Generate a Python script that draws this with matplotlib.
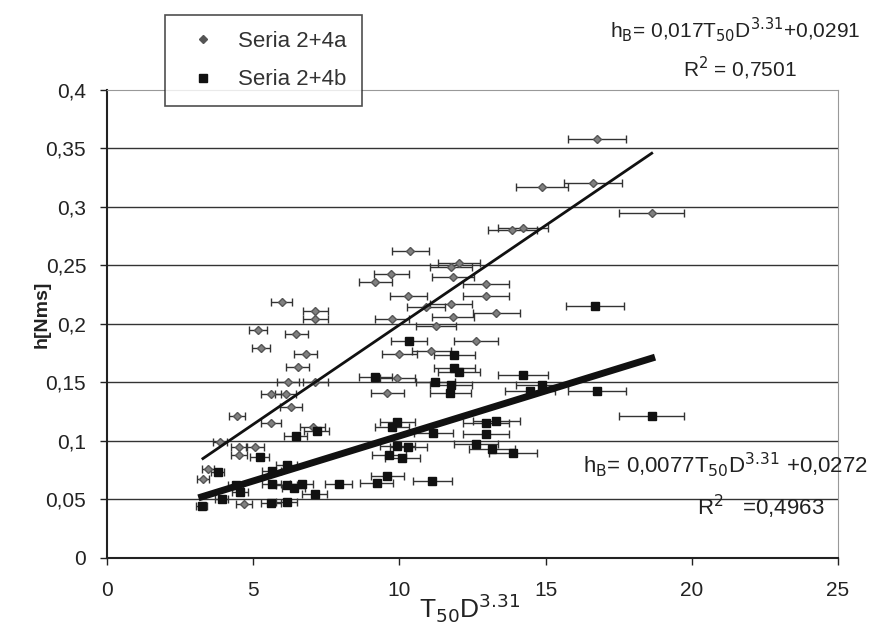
import numpy as np
import matplotlib
matplotlib.use("Agg")
from matplotlib import pyplot
from matplotlib.lines import Line2D

# Seria 2+4a (grey diamonds)
a_x = [16.76, 14.88, 16.62, 18.63, 13.86, 14.23, 10.38, 12.05, 11.77, 9.73,
       9.18, 11.84, 12.97, 12.97, 10.31, 11.77, 10.92, 13.31, 11.84, 9.76,
       11.26, 12.63, 10.00, 11.09, 9.93, 9.59, 5.97, 7.13, 7.13, 5.15,
       6.48, 5.26, 6.79, 6.52, 6.18, 7.13, 5.60, 6.11, 6.28, 4.44,
       5.60, 7.03, 3.86, 4.51, 5.05, 4.51, 3.45, 3.28, 4.68]
a_y = [0.358, 0.317, 0.320, 0.295, 0.280, 0.282, 0.262, 0.252, 0.249, 0.243,
       0.236, 0.240, 0.234, 0.224, 0.224, 0.217, 0.214, 0.209, 0.206, 0.204,
       0.198, 0.185, 0.174, 0.177, 0.154, 0.141, 0.219, 0.211, 0.204, 0.195,
       0.191, 0.179, 0.174, 0.163, 0.150, 0.150, 0.140, 0.140, 0.129, 0.121,
       0.115, 0.112, 0.099, 0.095, 0.095, 0.088, 0.076, 0.067, 0.046]

# Seria 2+4b (black squares)
b_x = [16.69, 18.63, 16.76, 14.23, 14.88, 14.47, 10.34, 11.88, 11.88, 12.05,
       9.18, 11.23, 11.77, 11.74, 13.31, 12.97, 12.97, 9.93, 9.76, 11.16,
       9.93, 10.31, 12.63, 13.17, 13.89, 9.66, 10.10, 9.59, 9.22, 11.13,
       7.92, 6.45, 7.17, 5.22, 3.79, 4.40, 4.54, 5.63, 6.14, 5.63,
       6.14, 6.66, 6.38, 7.10, 3.24, 3.92, 5.60, 6.14]
b_y = [0.215, 0.121, 0.143, 0.156, 0.148, 0.143, 0.185, 0.173, 0.162, 0.159,
       0.155, 0.150, 0.148, 0.141, 0.117, 0.115, 0.106, 0.116, 0.112, 0.107,
       0.096, 0.095, 0.097, 0.093, 0.090, 0.088, 0.085, 0.070, 0.064, 0.066,
       0.063, 0.104, 0.108, 0.086, 0.073, 0.062, 0.056, 0.074, 0.079, 0.063,
       0.062, 0.063, 0.060, 0.055, 0.044, 0.050, 0.047, 0.048]

# relative horizontal uncertainty
rel_err = 0.06

# trend lines as printed on the chart
a_fit = (0.017, 0.0291)
b_fit = (0.0077, 0.0272)

x_ticks = [0, 5, 10, 15, 20, 25]
y_ticks = [0, 0.05, 0.1, 0.15, 0.2, 0.25, 0.3, 0.35, 0.4]
y_labels = ["0", "0,05", "0,1", "0,15", "0,2", "0,25", "0,3", "0,35", "0,4"]

pyplot.rcParams["font.family"] = ["Liberation Sans", "DejaVu Sans"]
TEXT = "#222222"

figure = pyplot.figure(figsize=(8.77, 6.24), dpi=100)
axis = figure.add_axes([0.122, 0.106, 0.8335, 0.750])

for y in y_ticks[1:-1]:
    axis.axhline(y, color="#333333", lw=1.0, zorder=1)

a_x = np.array(a_x)
b_x = np.array(b_x)
axis.errorbar(a_x, a_y, xerr=rel_err * a_x, fmt="D", ms=4.5, color="#808080",
              mec="#555555", ecolor="#333333", elinewidth=1.0, capsize=3,
              capthick=1.0, zorder=3)
axis.errorbar(b_x, b_y, xerr=rel_err * b_x, fmt="s", ms=5.5, color="#111111",
              ecolor="#333333", elinewidth=1.0, capsize=3, capthick=1.0, zorder=3)

xa = np.array([a_x.min(), a_x.max()])
axis.plot(xa, a_fit[0] * xa + a_fit[1], color="#111111", lw=2.0, zorder=4)
xb = np.array([b_x.min(), b_x.max()])
axis.plot(xb, b_fit[0] * xb + b_fit[1], color="#111111", lw=5.0, zorder=4)

axis.set_xlim(0, 25)
axis.set_ylim(0, 0.4)
axis.set_xticks(x_ticks)
axis.set_xticklabels([str(t) for t in x_ticks], fontsize=15, color=TEXT)
axis.set_yticks(y_ticks)
axis.set_yticklabels(y_labels, fontsize=15, color=TEXT)
axis.tick_params(axis="both", direction="out", length=5, width=1.0, color="#222222")
axis.tick_params(axis="x", pad=12)
axis.tick_params(axis="y", pad=10)

for side in ("top", "right"):
    axis.spines[side].set_color("#999999")
    axis.spines[side].set_linewidth(0.8)
for side in ("left", "bottom"):
    axis.spines[side].set_color("#222222")
    axis.spines[side].set_linewidth(1.5)

axis.set_ylabel("h[Nms]", fontsize=14, fontweight="bold", color=TEXT)
axis.yaxis.set_label_coords(-0.077, 0.52)
figure.text(470 / 877, 1 - 607 / 624, "T$_{50}$D$^{3.31}$", fontsize=19,
            ha="center", va="center", color=TEXT)

handles = [
    Line2D([], [], ls="none", marker="D", ms=4, color="#555555"),
    Line2D([], [], ls="none", marker="s", ms=6, color="#111111"),
]
legend = figure.legend(handles, ["Seria 2+4a", "Seria 2+4b"], loc="upper left",
                       bbox_to_anchor=(0.188, 0.976), fontsize=16, frameon=True,
                       fancybox=False, edgecolor="#222222", borderpad=0.7,
                       labelspacing=0.8, handletextpad=0.6, borderaxespad=0)
legend.get_frame().set_linewidth(1.2)
for t in legend.get_texts():
    t.set_color("#333333")

figure.text(0.838, 0.952, r"h$_\mathrm{B}$= 0,017T$_{50}$D$^{3.31}$+0,0291", fontsize=15,
            ha="center", va="center", color=TEXT)
figure.text(0.844, 0.891, "R$^2$ = 0,7501", fontsize=15, ha="center", va="center", color=TEXT)
figure.text(0.665, 0.255, r"h$_\mathrm{B}$= 0,0077T$_{50}$D$^{3.31}$ +0,0272", fontsize=16,
            ha="left", va="center", color=TEXT)
figure.text(0.795, 0.188, "R$^2$   =0,4963", fontsize=16, ha="left", va="center", color=TEXT)

figure.set_facecolor("white")
figure.savefig("out.png", dpi=100)
